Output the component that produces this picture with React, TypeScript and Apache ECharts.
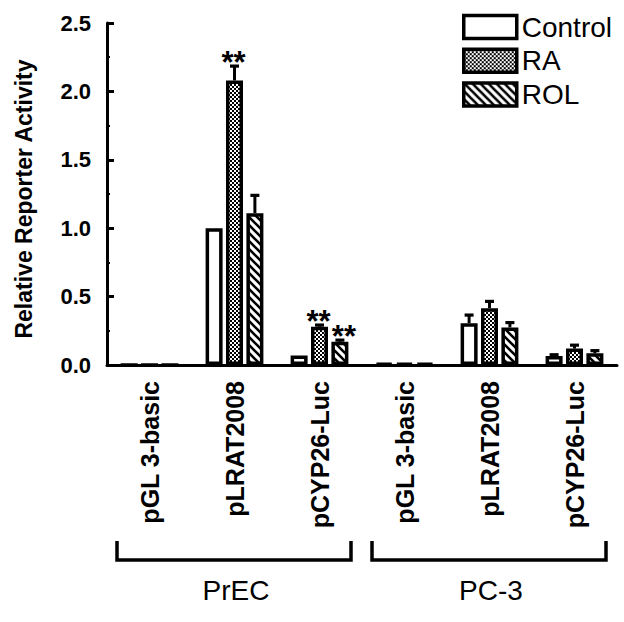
import React, { useEffect, useRef } from 'react';
import * as echarts from 'echarts';

// ---- data ----
const categories = ['pGL 3-basic', 'pLRAT2008', 'pCYP26-Luc', 'pGL 3-basic', 'pLRAT2008', 'pCYP26-Luc'];
const seriesNames = ['Control', 'RA', 'ROL'];
const controlValues = [0, 1.0, 0.07, 0.012, 0.305, 0.065];
const raValues = [0, 2.08, 0.28, 0.012, 0.415, 0.12];
const rolValues = [0, 1.11, 0.17, 0.012, 0.275, 0.085];
const controlErrors = [0, 0, 0, 0, 0.06, 0.01];
const raErrors = [0, 0.105, 0.012, 0, 0.05, 0.025];
const rolErrors = [0, 0.13, 0.012, 0, 0.035, 0.02];
const controlStars = ['', '', '', '', '', ''];
const raStars = ['', '**', '**', '', '', ''];
const rolStars = ['', '', '**', '', '', ''];
const groupNames = ['PrEC', 'PC-3'];
const groupStart = [0, 3];
const groupEnd = [2, 5];
const yMin = 0;
const yMax = 2.5;
const yInterval = 0.5;
const yAxisTitle = 'Relative Reporter Activity';

// ---- styles ----
const FONT = '"Liberation Sans", Arial, Helvetica, sans-serif';
const BAR_WIDTH = 17;
const BAR_GAP = 0.2;
const STAR_NUDGE = [0, -1, 4];

const svgUrl = (s: string) => 'data:image/svg+xml;charset=utf-8,' + encodeURIComponent(s);

const dotPattern = {
  image: svgUrl(
    '<svg xmlns="http://www.w3.org/2000/svg" width="4" height="4"><rect width="4" height="4" fill="#000"/><rect width="2" height="2" fill="#fff"/><rect x="2" y="2" width="2" height="2" fill="#fff"/></svg>'
  ),
  repeat: 'repeat',
  imageWidth: 4,
  imageHeight: 4,
};
const hatchPattern = {
  image: svgUrl(
    '<svg xmlns="http://www.w3.org/2000/svg" width="8" height="8"><rect width="8" height="8" fill="#fff"/><path d="M-2,-2 L10,10 M-2,6 L2,10 M6,-2 L10,2" stroke="#000" stroke-width="2.6"/></svg>'
  ),
  repeat: 'repeat',
  imageWidth: 8,
  imageHeight: 8,
};

const fills: any[] = ['#ffffff', dotPattern, hatchPattern];
const valueSets = [controlValues, raValues, rolValues];
const errorSets = [controlErrors, raErrors, rolErrors];
const starSets = [controlStars, raStars, rolStars];

export default function App() {
  const ref = useRef<HTMLDivElement>(null);

  useEffect(() => {
    document.body.style.margin = '0';
    if (!ref.current) return;
    const chart = echarts.init(ref.current, null, { renderer: 'svg' });

    const errRows: any[] = [];
    const errStars: string[] = [];
    for (let k = 0; k < 3; k++) {
      for (let c = 0; c < categories.length; c++) {
        errRows.push([c, k, valueSets[k][c], errorSets[k][c]]);
        errStars.push(starSets[k][c]);
      }
    }
    const groupRows = groupNames.map((_, i) => [groupStart[i], groupEnd[i], 0]);

    const offset = BAR_WIDTH * (1 + BAR_GAP);

    const barSeries = seriesNames.map((name, k) => ({
      name,
      type: 'bar',
      data: valueSets[k],
      barWidth: BAR_WIDTH,
      barGap: `${BAR_GAP * 100}%`,
      itemStyle: { color: fills[k], borderColor: '#000', borderWidth: 3.5 },
      z: 2,
    }));

    const option: any = {
      animation: false,
      backgroundColor: '#ffffff',
      grid: { left: 107, right: 7, top: 23, bottom: 257, containLabel: false },
      legend: {
        data: seriesNames,
        orient: 'vertical',
        left: 462,
        top: 13,
        padding: 0,
        itemWidth: 53,
        itemHeight: 23,
        itemGap: 5.7,
        icon: 'rect',
        itemStyle: { borderColor: '#000', borderWidth: 3.5 },
        textStyle: { fontFamily: FONT, fontSize: 28, color: '#000', lineHeight: 23 },
      },
      xAxis: {
        type: 'category',
        data: categories,
        axisLine: { lineStyle: { color: '#000', width: 3 } },
        axisTick: { show: false },
        axisLabel: {
          interval: 0,
          rotate: 90,
          margin: 16,
          color: '#000',
          fontFamily: FONT,
          fontWeight: 'bold',
          fontSize: 25,
        },
        splitLine: { show: false },
      },
      yAxis: {
        type: 'value',
        min: yMin,
        max: yMax,
        interval: yInterval,
        name: yAxisTitle,
        nameLocation: 'middle',
        nameGap: 72,
        nameTextStyle: {
          fontFamily: FONT,
          fontWeight: 'bold',
          fontSize: 23,
          color: '#000',
          padding: [0, 10, 0, 0],
        },
        axisLine: { show: true, lineStyle: { color: '#000', width: 3 } },
        axisTick: { show: true, inside: true, length: 7, lineStyle: { color: '#000', width: 3 } },
        minorTick: { show: true, splitNumber: 2, length: 3, lineStyle: { color: '#000', width: 2 } },
        axisLabel: {
          margin: 16,
          color: '#000',
          fontFamily: FONT,
          fontWeight: 'bold',
          fontSize: 22,
          formatter: (v: number) => v.toFixed(1),
        },
        splitLine: { show: false },
      },
      series: [
        ...barSeries,
        {
          type: 'custom',
          name: 'errors',
          z: 5,
          clip: false,
          encode: { x: 0, y: 2 },
          data: errRows,
          renderItem: (params: any, api: any) => {
            const c = api.value(0);
            const k = api.value(1);
            const v = api.value(2);
            const e = api.value(3);
            const base = api.coord([c, v]);
            const x = base[0] + (k - 1) * offset;
            const top = api.coord([c, v + e])[1];
            const children: any[] = [];
            if (e > 0) {
              children.push({
                type: 'line',
                shape: { x1: x, y1: base[1], x2: x, y2: top },
                style: { stroke: '#000', lineWidth: 3 },
              });
              children.push({
                type: 'line',
                shape: { x1: x - 4.5, y1: top, x2: x + 4.5, y2: top },
                style: { stroke: '#000', lineWidth: 3.2 },
              });
            }
            const star = errStars[params.dataIndex];
            if (star) {
              children.push({
                type: 'text',
                x: x + STAR_NUDGE[k],
                y: Math.min(top, base[1]) - 4,
                style: {
                  text: star,
                  fill: '#000',
                  fontFamily: FONT,
                  fontWeight: 'bold',
                  fontSize: 31,
                  align: 'center',
                  verticalAlign: 'middle',
                },
              });
            }
            return { type: 'group', children };
          },
        },
        {
          type: 'custom',
          name: 'groups',
          z: 5,
          clip: false,
          silent: true,
          encode: { x: [0, 1], y: 2 },
          data: groupRows,
          renderItem: (params: any, api: any) => {
            const a = api.coord([api.value(0), 0]);
            const b = api.coord([api.value(1), 0]);
            const y0 = a[1];
            const x1 = a[0] - 32.5;
            const x2 = b[0] + 31.5;
            const yTop = y0 + 176;
            const yBot = y0 + 195;
            return {
              type: 'group',
              children: [
                {
                  type: 'polyline',
                  shape: { points: [[x1, yTop], [x1, yBot], [x2, yBot], [x2, yTop]] },
                  style: { stroke: '#000', lineWidth: 3.5, fill: 'none' },
                },
                {
                  type: 'text',
                  x: (x1 + x2) / 2 + 2,
                  y: y0 + 225,
                  style: {
                    text: groupNames[params.dataIndex],
                    fill: '#000',
                    fontFamily: FONT,
                    fontSize: 28,
                    align: 'center',
                    verticalAlign: 'middle',
                  },
                },
              ],
            };
          },
        },
      ],
    };

    chart.setOption(option);
    return () => chart.dispose();
  }, []);

  return (
    <div
      ref={ref}
      style={{ position: 'absolute', left: 0, top: 0, width: 624, height: 622, background: '#fff' }}
    />
  );
}
